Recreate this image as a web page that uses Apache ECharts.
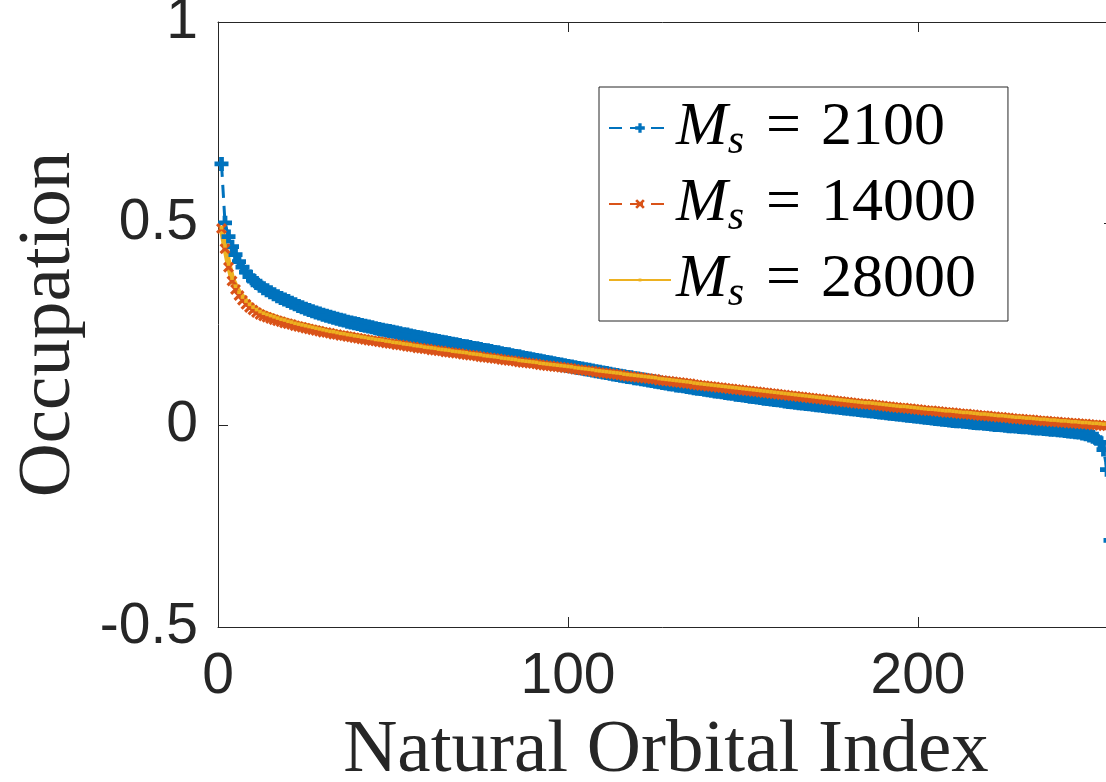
<!DOCTYPE html>
<html>
<head>
<meta charset="utf-8">
<script src="https://cdn.jsdelivr.net/npm/echarts@6/dist/echarts.min.js"></script>
<style>
html,body{margin:0;padding:0;background:#fff;}
#chart{width:1106px;height:782px;}
</style>
</head>
<body>
<div id="chart"></div>
<script>
// Occupation of natural orbitals, index 1..256
const occ2100 = [
0.648,0.502,0.468,0.443,0.423,0.406,0.392,0.380,0.369,0.360,
0.353,0.346,0.340,0.335,0.330,0.325,0.320,0.316,0.312,0.308,
0.304,0.300,0.296,0.293,0.289,0.286,0.283,0.280,0.277,0.274,
0.272,0.269,0.267,0.264,0.262,0.260,0.257,0.255,0.253,0.251,
0.249,0.247,0.245,0.243,0.241,0.239,0.237,0.235,0.234,0.232,
0.230,0.228,0.226,0.225,0.223,0.221,0.219,0.218,0.216,0.214,
0.212,0.211,0.209,0.207,0.206,0.204,0.202,0.201,0.199,0.197,
0.196,0.194,0.192,0.191,0.189,0.187,0.186,0.184,0.182,0.181,
0.179,0.177,0.176,0.174,0.172,0.171,0.169,0.167,0.166,0.164,
0.162,0.161,0.159,0.157,0.156,0.154,0.152,0.151,0.149,0.147,
0.146,0.144,0.142,0.141,0.139,0.138,0.136,0.134,0.133,0.131,
0.130,0.128,0.126,0.125,0.123,0.122,0.120,0.119,0.117,0.116,
0.114,0.113,0.111,0.110,0.108,0.107,0.105,0.104,0.102,0.101,
0.099,0.098,0.097,0.095,0.094,0.092,0.091,0.090,0.088,0.087,
0.086,0.084,0.083,0.082,0.080,0.079,0.078,0.076,0.075,0.074,
0.073,0.071,0.070,0.069,0.068,0.066,0.065,0.064,0.063,0.062,
0.061,0.059,0.058,0.057,0.056,0.055,0.054,0.053,0.052,0.051,
0.050,0.049,0.048,0.047,0.046,0.045,0.044,0.043,0.042,0.041,
0.040,0.039,0.038,0.037,0.036,0.035,0.034,0.033,0.032,0.031,
0.030,0.029,0.028,0.027,0.026,0.025,0.024,0.023,0.022,0.021,
0.020,0.019,0.018,0.017,0.016,0.015,0.014,0.013,0.012,0.011,
0.010,0.010,0.009,0.008,0.007,0.006,0.005,0.005,0.004,0.003,
0.002,0.001,0.001,0.000,-0.001,-0.002,-0.002,-0.003,-0.004,-0.005,
-0.005,-0.006,-0.007,-0.008,-0.008,-0.009,-0.010,-0.011,-0.011,-0.012,
-0.013,-0.014,-0.015,-0.016,-0.017,-0.018,-0.020,-0.022,-0.025,-0.028,
-0.033,-0.042,-0.060,-0.110,-0.285,-0.450
];
const occ14000 = [
0.488,0.438,0.392,0.358,0.337,0.322,0.310,0.300,0.292,0.286,
0.280,0.275,0.271,0.268,0.265,0.262,0.259,0.257,0.254,0.252,
0.250,0.247,0.245,0.243,0.241,0.239,0.237,0.235,0.233,0.231,
0.230,0.228,0.226,0.225,0.223,0.222,0.220,0.219,0.217,0.216,
0.214,0.213,0.211,0.210,0.209,0.207,0.206,0.204,0.203,0.202,
0.200,0.199,0.198,0.196,0.195,0.194,0.192,0.191,0.190,0.189,
0.187,0.186,0.185,0.184,0.182,0.181,0.180,0.179,0.178,0.176,
0.175,0.174,0.173,0.172,0.170,0.169,0.168,0.167,0.166,0.165,
0.163,0.162,0.161,0.160,0.159,0.157,0.156,0.155,0.154,0.153,
0.152,0.150,0.149,0.148,0.147,0.146,0.145,0.144,0.143,0.142,
0.141,0.139,0.138,0.137,0.136,0.135,0.134,0.132,0.131,0.130,
0.129,0.128,0.127,0.126,0.125,0.123,0.122,0.121,0.120,0.119,
0.118,0.117,0.116,0.115,0.114,0.112,0.111,0.110,0.109,0.108,
0.107,0.106,0.105,0.104,0.103,0.101,0.100,0.099,0.098,0.097,
0.096,0.095,0.094,0.093,0.092,0.091,0.090,0.089,0.088,0.087,
0.086,0.085,0.084,0.083,0.082,0.081,0.080,0.079,0.078,0.077,
0.076,0.075,0.074,0.073,0.072,0.071,0.070,0.069,0.068,0.067,
0.066,0.065,0.064,0.063,0.062,0.061,0.060,0.059,0.058,0.057,
0.056,0.055,0.054,0.053,0.052,0.052,0.051,0.050,0.049,0.048,
0.047,0.046,0.045,0.044,0.043,0.043,0.042,0.041,0.040,0.039,
0.038,0.037,0.036,0.036,0.035,0.034,0.033,0.032,0.032,0.031,
0.030,0.029,0.028,0.028,0.027,0.026,0.025,0.024,0.024,0.023,
0.022,0.021,0.020,0.020,0.019,0.018,0.017,0.016,0.016,0.015,
0.014,0.014,0.013,0.012,0.011,0.011,0.010,0.009,0.009,0.008,
0.007,0.007,0.006,0.005,0.005,0.004,0.003,0.003,0.002,0.001,
0.001,0.000,-0.001,-0.001,-0.002,-0.003
];
const occ28000 = [
0.490,0.445,0.400,0.365,0.345,0.330,0.318,0.308,0.300,0.293,
0.287,0.282,0.278,0.275,0.272,0.269,0.266,0.263,0.261,0.258,
0.256,0.253,0.251,0.249,0.247,0.245,0.243,0.241,0.239,0.237,
0.235,0.233,0.232,0.230,0.228,0.227,0.225,0.224,0.222,0.221,
0.219,0.218,0.216,0.215,0.213,0.212,0.211,0.209,0.208,0.206,
0.205,0.204,0.202,0.201,0.200,0.198,0.197,0.196,0.194,0.193,
0.192,0.191,0.189,0.188,0.187,0.186,0.184,0.183,0.182,0.181,
0.180,0.178,0.177,0.176,0.175,0.173,0.172,0.171,0.170,0.169,
0.167,0.166,0.165,0.164,0.163,0.161,0.160,0.159,0.158,0.157,
0.156,0.154,0.153,0.152,0.151,0.150,0.149,0.148,0.147,0.146,
0.145,0.143,0.142,0.141,0.140,0.139,0.138,0.136,0.135,0.134,
0.133,0.132,0.131,0.130,0.129,0.127,0.126,0.125,0.124,0.123,
0.122,0.121,0.120,0.119,0.118,0.116,0.115,0.114,0.113,0.112,
0.111,0.110,0.109,0.108,0.107,0.105,0.104,0.103,0.102,0.101,
0.100,0.099,0.098,0.097,0.096,0.095,0.094,0.093,0.092,0.091,
0.090,0.089,0.088,0.087,0.086,0.085,0.084,0.083,0.082,0.081,
0.080,0.079,0.078,0.077,0.076,0.075,0.074,0.073,0.072,0.071,
0.070,0.069,0.068,0.067,0.066,0.065,0.064,0.063,0.062,0.061,
0.060,0.059,0.058,0.057,0.056,0.056,0.055,0.054,0.053,0.052,
0.051,0.050,0.049,0.048,0.047,0.047,0.046,0.045,0.044,0.043,
0.042,0.041,0.040,0.040,0.039,0.038,0.037,0.036,0.036,0.035,
0.034,0.033,0.032,0.032,0.031,0.030,0.029,0.028,0.028,0.027,
0.026,0.025,0.024,0.024,0.023,0.022,0.021,0.020,0.020,0.019,
0.018,0.018,0.017,0.016,0.015,0.015,0.014,0.013,0.013,0.012,
0.011,0.011,0.010,0.009,0.009,0.008,0.007,0.007,0.006,0.005,
0.005,0.004,0.003,0.003,0.002,0.001
];
const seriesNames = ['Ms = 2100', 'Ms = 14000', 'Ms = 28000'];
const seriesNumbers = ['2100', '14000', '28000'];
const xTickLabels = ['0', '100', '200'];
const yTickLabels = ['-0.5', '0', '0.5', '1'];

const orbitalIndex = occ2100.map((_, i) => i + 1);
const pairs = arr => arr.map((v, i) => [orbitalIndex[i], v]);

const PLUS = 'path://M3.3,0H6.7V3.3H10V6.7H6.7V10H3.3V6.7H0V3.3H3.3Z';
const CROSS = 'path://M0,2L2,0L10,8L8,10Z M8,0L10,2L2,10L0,8Z';
const DOT = 'path://M0,0L0,0M10,10L10,10M3.5,3.5H6.5V6.5H3.5Z';

const AX = '#262626';
const serif = "'Liberation Serif', 'Times New Roman', serif";
const sans = "'Liberation Sans', Arial, Helvetica, sans-serif";

const chart = echarts.init(document.getElementById('chart'), null, {renderer: 'canvas'});

chart.setOption({
  animation: false,
  backgroundColor: '#fff',
  grid: {left: 218, top: 22, right: -8, bottom: 155, containLabel: false, outerBoundsMode: 'none'},
  xAxis: [{
    type: 'value', min: 0, max: 256, interval: 100, position: 'bottom',
    axisLine: {show: true, onZero: false, lineStyle: {color: AX, width: 1}},
    axisTick: {show: true, inside: true, length: 10, lineStyle: {color: AX, width: 1}},
    axisLabel: {show: true, fontFamily: sans, fontSize: 57, color: AX, margin: 22,
      showMaxLabel: false, formatter: v => xTickLabels.indexOf(String(v)) >= 0 ? String(v) : ''},
    splitLine: {show: false},
    name: 'Natural Orbital Index', nameLocation: 'middle', nameGap: 87, nameMoveOverlap: false,
    nameTextStyle: {fontFamily: serif, fontSize: 75, color: AX}
  }, {
    type: 'value', min: 0, max: 256, interval: 100, position: 'top',
    axisLine: {show: true, onZero: false, lineStyle: {color: AX, width: 1}},
    axisTick: {show: true, inside: true, length: 10, lineStyle: {color: AX, width: 1}},
    axisLabel: {show: false}, splitLine: {show: false}
  }],
  yAxis: [{
    type: 'value', min: -0.5, max: 1, interval: 0.5, position: 'left',
    axisLine: {show: true, onZero: false, lineStyle: {color: AX, width: 1}},
    axisTick: {show: true, inside: true, length: 10, lineStyle: {color: AX, width: 1}},
    axisLabel: {show: true, fontFamily: sans, fontSize: 57, color: AX, margin: 20,
      formatter: v => yTickLabels.indexOf(String(v)) >= 0 ? String(v) : ''},
    splitLine: {show: false},
    name: 'Occupation', nameLocation: 'middle', nameGap: 131, nameRotate: 90, nameMoveOverlap: false,
    nameTextStyle: {fontFamily: serif, fontSize: 75, color: AX}
  }, {
    type: 'value', min: -0.5, max: 1, interval: 0.5, position: 'right',
    axisLine: {show: true, onZero: false, lineStyle: {color: AX, width: 1}},
    axisTick: {show: true, inside: true, length: 10, lineStyle: {color: AX, width: 1}},
    axisLabel: {show: false}, splitLine: {show: false}
  }],
  legend: {
    show: true, orient: 'vertical', left: 599, top: 87,
    padding: [3, 32, 3, 9], itemGap: 0, itemWidth: 62, itemHeight: 12,
    backgroundColor: '#fff', borderColor: AX, borderWidth: 1, borderRadius: 0,
    selectedMode: false,
    data: seriesNames,
    formatter: name => {
      const n = seriesNumbers[seriesNames.indexOf(name)];
      return '{m|M}{s|s}{e|=}{n|' + n + '}';
    },
    textStyle: {
      color: '#000', fontFamily: serif, fontSize: 62, lineHeight: 76,
      rich: {
        m: {fontFamily: serif, fontStyle: 'italic', fontSize: 62, lineHeight: 76, color: '#000', verticalAlign: 'middle'},
        s: {fontFamily: serif, fontStyle: 'italic', fontSize: 42, lineHeight: 42, color: '#000', verticalAlign: 'bottom', padding: [0, 0, 3, 0]},
        e: {fontFamily: serif, fontSize: 62, lineHeight: 76, color: '#000', padding: [0, 20, 0, 22], verticalAlign: 'middle'},
        n: {fontFamily: serif, fontSize: 62, lineHeight: 76, color: '#000', verticalAlign: 'middle'}
      }
    }
  },
  series: [{
    name: seriesNames[0], type: 'line', data: pairs(occ2100),
    xAxisIndex: 0, yAxisIndex: 0,
    symbol: PLUS, symbolSize: 14, showSymbol: true, showAllSymbol: true,
    lineStyle: {color: '#0072BD', width: 3, type: [13, 8]},
    itemStyle: {color: '#0072BD'},
    emphasis: {disabled: true}, silent: true, clip: true, sampling: 'none'
  }, {
    name: seriesNames[1], type: 'line', data: pairs(occ14000),
    xAxisIndex: 0, yAxisIndex: 0,
    symbol: CROSS, symbolSize: 11, showSymbol: true, showAllSymbol: true,
    lineStyle: {color: '#D95319', width: 3, type: [13, 8]},
    itemStyle: {color: '#D95319'},
    emphasis: {disabled: true}, silent: true, clip: true, sampling: 'none'
  }, {
    name: seriesNames[2], type: 'line', data: pairs(occ28000),
    xAxisIndex: 0, yAxisIndex: 0,
    symbol: DOT, symbolSize: 12, showSymbol: true, showAllSymbol: true,
    lineStyle: {color: '#EDB120', width: 6, type: 'solid'},
    itemStyle: {color: '#EDB120'},
    emphasis: {disabled: true}, silent: true, clip: true, sampling: 'none'
  }]
});
</script>
</body>
</html>
